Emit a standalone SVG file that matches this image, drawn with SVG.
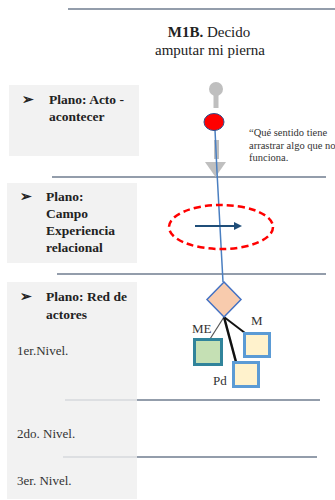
<svg xmlns="http://www.w3.org/2000/svg" width="335" height="500" viewBox="0 0 335 500">
<style>
.panel{fill:#f2f2f2}
.rule{stroke:#6f7d8f;stroke-width:1.5;fill:none}
.rulel{stroke:#c8ccd2;stroke-width:1.2;fill:none}
.lbl{font-family:"Liberation Serif","DejaVu Serif",serif;font-size:13.5px;font-weight:bold;fill:#222}
.lvl{font-family:"Liberation Serif","DejaVu Serif",serif;font-size:13px;fill:#333}
.note{font-family:"Liberation Serif","DejaVu Serif",serif;font-size:10.5px;fill:#333}
.title{font-family:"Liberation Serif","DejaVu Serif",serif;font-size:15px;fill:#222}
.act{font-family:"Liberation Serif","DejaVu Serif",serif;font-size:13px;fill:#333}
.box{stroke-width:3}
</style>
<defs>
<marker id="ah" markerWidth="8" markerHeight="8" refX="6" refY="4" orient="auto" markerUnits="userSpaceOnUse">
<path d="M0,0 L8,4 L0,8 Z" fill="#1f4e79"/>
</marker>
</defs>
<rect width="335" height="500" fill="#fff"/>
<g id="title">
<line class="rule" x1="68" y1="9" x2="335" y2="9"/>
<text class="title" x="209" y="37" text-anchor="middle"><tspan font-weight="bold">M1B.</tspan> Decido</text>
<text class="title" x="210" y="55" text-anchor="middle">amputar mi pierna</text>
</g>
<g id="panel-acto">
<rect class="panel" x="9" y="85" width="130" height="71"/>
<text class="lbl" x="22" y="104">➢</text>
<text class="lbl" x="49" y="104">Plano: Acto -</text>
<text class="lbl" x="49" y="121">acontecer</text>
</g>
<g id="panel-campo">
<rect class="panel" x="7" y="183" width="130" height="80"/>
<text class="lbl" x="20" y="201">➢</text>
<text class="lbl" x="46" y="201">Plano:</text>
<text class="lbl" x="46" y="218">Campo</text>
<text class="lbl" x="46" y="235">Experiencia</text>
<text class="lbl" x="46" y="252">relacional</text>
</g>
<g id="panel-red">
<rect class="panel" x="7" y="282" width="130" height="217"/>
<text class="lbl" x="20" y="301">➢</text>
<text class="lbl" x="46" y="301">Plano: Red de</text>
<text class="lbl" x="46" y="319">actores</text>
<text class="lvl" x="17" y="355">1er.Nivel.</text>
<text class="lvl" x="17" y="438">2do. Nivel.</text>
<text class="lvl" x="17" y="485">3er. Nivel.</text>
</g>
<g id="rules">
<line class="rule" x1="52" y1="177" x2="326" y2="177"/>
<line class="rule" x1="57" y1="274" x2="326" y2="274"/>
<line class="rulel" x1="65" y1="400" x2="137" y2="400"/>
<line class="rule" x1="137" y1="400" x2="320" y2="400"/>
<line class="rulel" x1="63" y1="457" x2="137" y2="457"/>
<line class="rule" x1="137" y1="457" x2="317" y2="457"/>
</g>
<g id="pin">
<circle cx="216" cy="89" r="7" fill="#bfbfbf"/>
<rect x="213.5" y="94" width="5" height="14" fill="#bfbfbf"/>
</g>
<g id="gray-arrow">
<rect x="214" y="140" width="5" height="19" fill="#bfbfbf"/>
<path d="M205,162 L226,162 L215.5,177 Z" fill="#bfbfbf"/>
</g>
<g id="connectors">
<path d="M215,130 L217,172 L223,282" stroke="#4a7fc1" stroke-width="1.5" fill="none"/>
<line x1="224" y1="317" x2="210" y2="339" stroke="#555" stroke-width="1.2"/>
<line x1="224" y1="317" x2="236" y2="362" stroke="#111" stroke-width="2.5"/>
<line x1="224" y1="317" x2="245" y2="333" stroke="#111" stroke-width="2"/>
</g>
<g id="red-node">
<ellipse cx="214" cy="122" rx="10" ry="8.5" fill="#ff0000" stroke="#2f528f" stroke-width="1"/>
</g>
<g id="note">
<text class="note" x="249" y="136">“Qué sentido tiene</text>
<text class="note" x="249" y="149">arrastrar algo que no</text>
<text class="note" x="249" y="161">funciona.</text>
</g>
<g id="campo-field">
<ellipse cx="221" cy="227" rx="52" ry="22" fill="none" stroke="#ff0000" stroke-width="2.5" stroke-dasharray="7,4"/>
<line x1="195" y1="226" x2="240" y2="226" stroke="#1f4e79" stroke-width="2" marker-end="url(#ah)"/>
</g>
<g id="diamond">
<path d="M224,282 L241,299.5 L224,317 L207,299.5 Z" fill="#f8cbad" stroke="#4472c4" stroke-width="1.5"/>
</g>
<g id="actor-ME">
<rect class="box" x="194.5" y="339.5" width="27" height="25" fill="#c5e0b4" stroke="#31849b"/>
<text class="act" x="192" y="333">ME</text>
</g>
<g id="actor-M">
<rect class="box" x="244.5" y="333.5" width="25" height="23" fill="#fff2cc" stroke="#5b9bd5"/>
<text class="act" x="251" y="325">M</text>
</g>
<g id="actor-Pd">
<rect class="box" x="233.5" y="362.5" width="25" height="24" fill="#fff2cc" stroke="#5b9bd5"/>
<text class="act" x="213" y="385">Pd</text>
</g>
</svg>
